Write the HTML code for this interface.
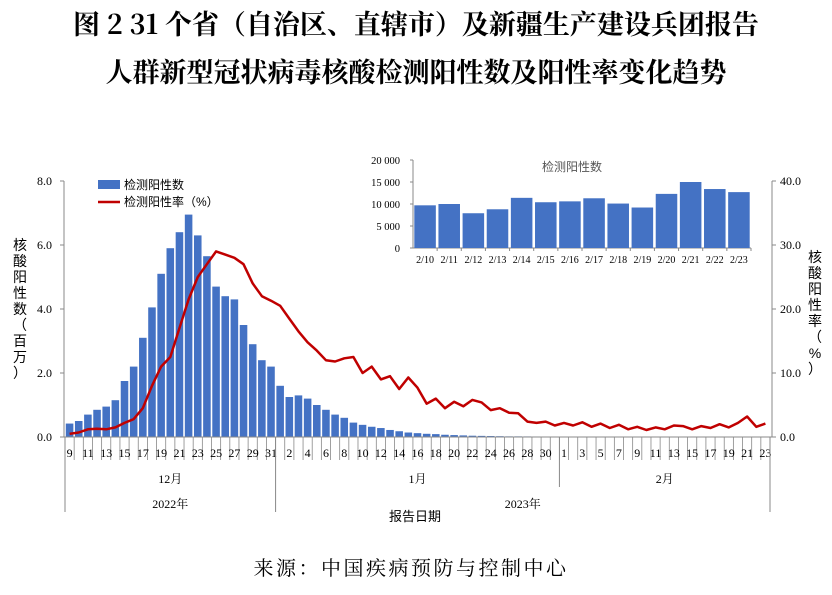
<!DOCTYPE html>
<html><head><meta charset="utf-8"><style>
body{margin:0;background:#fff;width:832px;height:590px;overflow:hidden}
svg text{font-family:"Liberation Serif","Noto Serif CJK SC",serif}
.s{font-family:"Liberation Sans","Noto Sans CJK SC",sans-serif}
</style></head><body>
<svg id="c" width="832" height="590" xmlns="http://www.w3.org/2000/svg">
<text x="416" y="34" text-anchor="middle" font-size="27" font-weight="bold" style="font-family:'Noto Serif CJK SC',serif">图 2  31 个省（自治区、直辖市）及新疆生产建设兵团报告</text>
<text x="416" y="82" text-anchor="middle" font-size="27" font-weight="bold" style="font-family:'Noto Serif CJK SC',serif">人群新型冠状病毒核酸检测阳性数及阳性率变化趋势</text>
<text x="411" y="575" text-anchor="middle" font-size="20" letter-spacing="2.5" style="font-family:'Noto Serif CJK SC',serif">来源：中国疾病预防与控制中心</text>
<g id="g"></g>
</svg>
<script>
var ns="http://www.w3.org/2000/svg",g=document.getElementById('g');
function el(t,a,txt){var e=document.createElementNS(ns,t);for(var k in a)e.setAttribute(k,a[k]);if(txt!=null)e.textContent=txt;g.appendChild(e);return e;}
var x0=65,x1=770,N=77,w=(x1-x0)/N,y0=437,py=32;
var bars=[0.42,0.5,0.7,0.85,0.95,1.15,1.75,2.2,3.1,4.05,5.1,5.9,6.4,6.95,6.3,5.65,4.7,4.4,4.3,3.5,2.9,2.4,2.2,
1.6,1.25,1.3,1.2,1.0,0.85,0.7,0.6,0.45,0.38,0.32,0.28,0.22,0.18,0.14,0.12,0.1,0.09,0.07,0.06,0.05,0.04,0.035,0.03,0.025,0.02,0.02,0.018,0.016,0.015,0.014];
while(bars.length<N)bars.push(0.011);
var rate=[0.5,0.7,1.2,1.3,1.2,1.5,2.2,2.8,4.5,8,11,12.5,17,21.5,25,27,29,28.5,28,27,24,22,21.3,
20.5,18.5,16.5,14.8,13.5,12,11.8,12.3,12.5,10,11,9,9.5,7.5,9.3,7.7,5.2,6,4.5,5.5,4.8,5.8,5.4,4.2,4.5,3.8,3.7,2.4,2.2,2.4,1.8,
2.2,1.8,2.3,1.6,2.1,1.4,1.9,1.2,1.6,1.1,1.5,1.2,1.8,1.7,1.2,1.7,1.4,2,1.5,2.2,3.2,1.6,2.1];
for(var i=0;i<N;i++){var h=bars[i]*py;el('rect',{x:x0+i*w+0.8,y:y0-h,width:w-1.6,height:h,fill:'#4472C4'});}
var p='';for(var i=0;i<rate.length;i++){p+=(i?'L':'M')+(x0+(i+0.5)*w).toFixed(1)+','+(y0-rate[i]/40*8*py).toFixed(1);}
el('path',{d:p,fill:'none',stroke:'#C00000','stroke-width':2.5,'stroke-linejoin':'round'});
el('line',{x1:64,y1:181,x2:64,y2:y0,stroke:'#888'});
el('line',{x1:772,y1:181,x2:772,y2:y0,stroke:'#888'});
el('line',{x1:64,y1:y0,x2:772,y2:y0,stroke:'#888'});
for(var k=0;k<=4;k++){var y=y0-k*2*py;
el('line',{x1:60,y1:y,x2:64,y2:y,stroke:'#888'});el('text',{x:52,y:y+4,'text-anchor':'end','font-size':12},(k*2).toFixed(1));
el('line',{x1:772,y1:y,x2:776,y2:y,stroke:'#888'});el('text',{x:780,y:y+4,'font-size':12},(k*10).toFixed(1));}
var lt="核酸阳性数（百万）".split(''),rt="核酸阳性率（%）".split('');
lt.forEach(function(c,i){el('text',{x:20,y:250+i*16,'text-anchor':'middle','font-size':14,class:'s'},c);});
rt.forEach(function(c,i){el('text',{x:815,y:262+i*16,'text-anchor':'middle','font-size':14,class:'s'},c);});
for(var i=0;i<=N;i++){var x=x0+i*w;el('line',{x1:x,y1:y0,x2:x,y2:460,stroke:'#888','stroke-width':0.8});}
for(var i=0;i<N;i++){var d,lab=false;
if(i<23){d=9+i;lab=(d%2==1);}else if(i<54){d=i-22;lab=(d%2==0);}else{d=i-53;lab=(d%2==1);}
if(lab)el('text',{x:x0+(i+0.5)*w,y:457,'text-anchor':'middle','font-size':12},d);}
el('line',{x1:x0,y1:y0,x2:x0,y2:512,stroke:'#888'});
el('line',{x1:x0+23*w,y1:y0,x2:x0+23*w,y2:512,stroke:'#888'});
el('line',{x1:x0+54*w,y1:y0,x2:x0+54*w,y2:487,stroke:'#888'});
el('line',{x1:x1,y1:y0,x2:x1,y2:512,stroke:'#888'});
el('text',{x:x0+11.5*w,y:483,'text-anchor':'middle','font-size':12},'12月');
el('text',{x:x0+38.5*w,y:483,'text-anchor':'middle','font-size':12},'1月');
el('text',{x:x0+65.5*w,y:483,'text-anchor':'middle','font-size':12},'2月');
el('text',{x:x0+11.5*w,y:508,'text-anchor':'middle','font-size':12},'2022年');
el('text',{x:x0+50*w,y:508,'text-anchor':'middle','font-size':12},'2023年');
el('text',{x:415,y:521,'text-anchor':'middle','font-size':13,class:'s'},'报告日期');
el('rect',{x:98,y:180,width:22,height:9,fill:'#4472C4'});
el('text',{x:124,y:189,'font-size':12,class:'s'},'检测阳性数');
el('line',{x1:98,y1:202,x2:120,y2:202,stroke:'#C00000','stroke-width':2.5});
el('text',{x:124,y:206,'font-size':12,class:'s'},'检测阳性率（%）');
var iv=[9700,10000,7900,8800,11400,10400,10600,11300,10100,9200,12300,15000,13400,12700];
var ix0=413,ix1=751,iw=(ix1-ix0)/14,iy0=248,is=88/20000;
el('line',{x1:ix0,y1:160,x2:ix0,y2:iy0,stroke:'#888'});
el('line',{x1:ix0,y1:iy0,x2:ix1,y2:iy0,stroke:'#888'});
for(var k=0;k<=4;k++){var y=iy0-k*5000*is;el('line',{x1:ix0-3,y1:y,x2:ix0,y2:y,stroke:'#888'});
el('text',{x:400,y:y+4,'text-anchor':'end','font-size':10.5},k==0?'0':(k*5)+' 000');}
for(var i=0;i<14;i++){var h=iv[i]*is;el('rect',{x:ix0+i*iw+1.3,y:iy0-h,width:iw-2.6,height:h,fill:'#4472C4'});
el('line',{x1:ix0+(i+1)*iw,y1:iy0,x2:ix0+(i+1)*iw,y2:iy0+3,stroke:'#888'});
el('text',{x:ix0+(i+0.5)*iw,y:263,'text-anchor':'middle','font-size':10},'2/'+(10+i));}
el('text',{x:572,y:171,'text-anchor':'middle','font-size':12,fill:'#555',class:'s'},'检测阳性数');
</script>
</body></html>
